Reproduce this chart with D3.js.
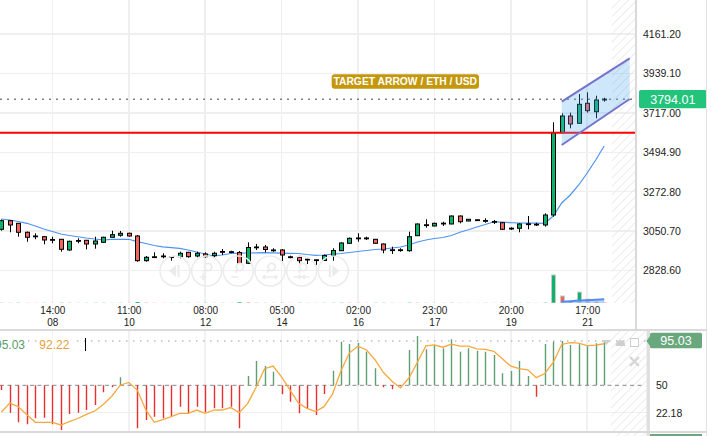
<!DOCTYPE html>
<html><head><meta charset="utf-8">
<script src="https://cdn.jsdelivr.net/npm/d3@7"></script>
<style>
html,body{margin:0;padding:0;background:#fff;overflow:hidden}
svg{display:block;font-family:"Liberation Sans",Arial,sans-serif}
</style></head><body>
<svg id="chart" width="717" height="436"></svg>
<script>
// ---------------- DATA ----------------
const startTime = "2024-05-07T08:00:00Z";
const candleHours = 5;

const opens = [3060.8,3109.3,3094.6,3043.9,3023.1,3019.1,3003.3,3004.5,2944.2,2997.7,
2998.8,2978.0,2987.6,3015.7,3027.0,3038.3,3023.1,2883.9,2905.9,2910.4,
2906.4,2906.4,2931.2,2910.4,2921.6,2912.0,2935.7,2934.6,2930.1,2869.2,
2961.1,2961.1,2944.2,2944.2,2905.9,2903.0,2892.3,2889.0,2885.0,2913.2,
2940.2,2981.9,3011.8,3011.8,3004.5,2978.0,2945.3,2945.3,2940.2,3024.7,
3086.2,3079.4,3095.2,3090.7,3135.7,3107.6,3114.3,3110.4,3104.8,3098.0,
3067.0,3066.4,3091.8,3089.5,3085.0,3141.4,3605.1,3699.2,3658.1,3770.7,
3723.4,3792.5];
const highs = [3116.0,3113.2,3096.3,3048.4,3038.3,3023.1,3019.1,3006.2,2996.6,3010.1,
3000.5,3019.1,3019.1,3052.9,3051.2,3041.6,3028.7,2910.4,2931.2,2925.6,
2907.6,2934.6,2932.9,2934.6,2931.2,2934.6,2949.8,2940.2,2938.5,2987.6,
2978.0,2972.3,2953.8,2949.8,2912.0,2912.0,2893.5,2890.1,2918.8,2953.8,
2987.6,3014.6,3038.3,3019.1,3006.2,2980.8,2962.8,2953.8,3047.3,3093.5,
3117.2,3098.0,3103.6,3138.6,3138.6,3118.8,3117.2,3122.8,3113.2,3100.2,
3072.1,3094.6,3135.7,3098.0,3151.0,3663.7,3714.4,3717.8,3823.1,3832.7,
3813.6,3802.3];
const lows = [3052.9,3043.9,3019.1,2990.9,3004.5,2976.3,2981.9,2934.6,2940.2,2981.9,
2948.1,2951.5,2985.3,3014.6,3019.1,3019.1,2878.2,2878.2,2900.8,2897.4,
2883.9,2897.4,2900.8,2903.0,2900.8,2903.0,2916.0,2925.6,2865.3,2865.3,
2944.2,2931.2,2934.6,2882.2,2897.4,2869.2,2865.3,2859.7,2882.2,2883.9,
2938.5,2980.8,2990.9,3000.5,2979.7,2925.6,2921.6,2934.6,2934.6,3023.1,
3069.8,3077.7,3079.4,3089.0,3094.6,3105.9,3109.3,3098.0,3090.7,3056.9,
3056.9,3043.9,3060.8,3079.4,3075.5,3131.8,3603.4,3629.9,3656.9,3717.8,
3686.2,3779.8];
const closes = [3109.3,3085.0,3043.9,3015.7,3020.2,3000.5,3001.6,2948.1,2993.2,2996.0,
2978.0,2994.9,3015.7,3030.4,3038.3,3023.1,2883.9,2903.0,2904.7,2908.7,
2905.3,2925.6,2906.4,2925.6,2906.4,2925.6,2934.0,2932.9,2869.2,2958.3,
2959.4,2947.0,2942.5,2916.0,2904.7,2883.9,2891.2,2887.8,2913.2,2941.4,
2983.6,3010.1,3010.1,3010.1,2981.9,2944.2,2944.2,2944.2,3019.1,3090.7,
3085.0,3094.6,3094.1,3135.7,3103.6,3117.2,3113.2,3109.3,3103.6,3060.8,
3065.9,3090.7,3090.7,3088.4,3141.4,3605.1,3699.2,3654.1,3765.1,3729.0,
3789.3,3794.01];
const maValues = [3118.8,3113.2,3104.7,3094.6,3079.4,3062.5,3048.4,3034.3,3025.9,3018.6,
3011.8,3006.2,3000.5,3004.5,3004.5,3004.5,2990.9,2980.8,2969.5,2962.2,
2957.7,2953.7,2944.2,2932.9,2921.6,2910.4,2916.0,2924.5,2926.2,2927.3,
2928.4,2929.0,2927.9,2926.8,2925.6,2924.5,2918.8,2914.3,2916.0,2920.5,
2924.5,2930.1,2935.7,2941.4,2947.0,2949.8,2955.4,2961.1,2972.3,2989.2,
3000.5,3009.0,3014.6,3025.9,3043.9,3058.0,3073.8,3087.8,3103.1,3100.8,
3098.0,3096.3,3095.7,3095.2,3094.6,3135.7,3209.0,3254.1,3310.4,3378.0,
3451.3,3530.2];
const volumes = [0.6,0.5,0.7,0.5,0.4,0.5,0.4,0.8,0.6,0.4,
0.5,0.5,0.6,0.4,0.5,0.4,3.2,0.9,0.5,0.4,
0.4,0.5,0.5,0.4,0.5,0.4,0.4,0.3,2.5,1.4,
0.6,0.5,0.4,0.7,0.4,0.6,0.5,0.4,0.5,0.6,
0.8,0.7,0.5,0.4,0.5,0.6,0.4,0.3,0.9,0.8,
0.5,0.4,0.4,0.6,0.5,0.4,0.3,0.4,0.3,0.6,
0.4,0.5,0.5,0.3,0.9,100,25,4,39,14,
5,1.5];
const volumeMA = [66,67,68,69,70,71];
const volumeMAValues = [4.5,6.5,8.5,10,11.5,13];
const histValues = [45.2,22.2,12.4,10.4,16.5,17.1,10.4,4.6,20.8,22.2,
24.9,30.0,42.9,48.0,58.1,50.5,6.3,14.7,18.1,16.5,
18.1,28.3,21.5,28.3,22.6,26.6,26.6,28.3,6.3,59.5,
74.7,69.6,63.8,40.9,33.3,21.5,26.6,19.8,41.2,64.8,
94.3,92.0,93.0,84.1,67.3,48.0,45.9,49.0,85.9,100.1,
86.6,91.0,87.6,96.7,84.1,87.6,85.2,84.1,80.8,62.2,
64.5,74.7,59.5,38.4,92.0,94.3,95.0,91.0,91.7,91.0,
92.7,95.03];
const signalValues = [22.9,32.0,28.3,20.1,12.4,12.4,12.4,9.7,13.2,16.3,
20.5,23.9,30.5,38.9,50.1,53.0,45.2,25.2,12.4,15.2,
18.1,21.4,21.5,24.9,21.5,24.7,24.9,27.4,22.3,31.4,
48.0,66.9,69.6,58.6,45.2,31.8,26.6,23.3,28.3,41.1,
64.8,83.0,89.8,85.9,76.2,63.0,54.1,47.3,57.4,73.5,
90.0,91.0,88.7,91.8,89.9,89.9,87.1,86.6,84.6,77.1,
69.4,66.9,65.8,57.8,62.0,73.2,91.5,93.3,92.8,90.3,
90.8,92.22];
const priceTicks = [4161.20,3939.10,3717.00,3494.90,3272.80,3050.70,2828.60];
const timeTicks = ["2024-05-08T14:00:00Z","2024-05-10T11:00:00Z","2024-05-12T08:00:00Z","2024-05-14T05:00:00Z",
"2024-05-16T02:00:00Z","2024-05-17T23:00:00Z","2024-05-19T20:00:00Z","2024-05-21T17:00:00Z"];
const indicatorTicks = [50, 22.18];
const lastPrice = 3794.01;
const horizontalLevel = 3605.1;
const channelUpper = [[66, 3779.8],[74, 4024.3]];
const channelLower = [[66, 3535.8],[74, 3795.0]];
const targetText = "TARGET ARROW / ETH / USD";
const targetAnchor = [47.57, 3893.6];
const histLast = 95.03, signalLast = 92.22;

// ---------------- SETUP ----------------
const svg = d3.select("#chart");
const mainRight = 636, mainBottom = 303;
const indTop = 331, indBottom = 431, indRight = 646.5;
const UP = "#0db36b", DOWN = "#f2655c";

const t0 = new Date(startTime);
const tAt = i => new Date(t0.getTime() + i * candleHours * 3600e3);
const times = opens.map((_, i) => tAt(i));
const n = opens.length;
const x = d3.scaleUtc().domain([times[0], times[n - 1]]).range([1.4, 1.4 + 8.49 * (n - 1)]);
const xi = i => x(tAt(i));
const y = d3.scaleLinear().domain([2828.6, 4161.2]).range([270.5, 34]);
const yv = d3.scaleLinear().domain([0, 100]).range([mainBottom, 275]);
const yi = d3.scaleLinear().domain([22.18, 95.03]).range([412.7, 341]);
const tickDates = timeTicks.map(s => new Date(s));

const defs = svg.append("defs");
const pat = defs.append("pattern").attr("id", "hatch").attr("width", 6).attr("height", 6)
  .attr("patternUnits", "userSpaceOnUse").attr("patternTransform", "rotate(45)");
pat.append("line").attr("x1", 0).attr("y1", 0).attr("x2", 0).attr("y2", 6)
  .attr("stroke", "#e8e8e8").attr("stroke-width", 1.6);
defs.append("clipPath").attr("id", "mainClip").append("rect")
  .attr("x", 0).attr("y", 0).attr("width", mainRight).attr("height", mainBottom);
defs.append("clipPath").attr("id", "indClip").append("rect")
  .attr("x", 0).attr("y", indTop).attr("width", indRight).attr("height", indBottom - indTop);

// ---------------- GRID & HATCH ----------------
const grid = svg.append("g").attr("shape-rendering", "crispEdges");
grid.selectAll(".hg").data(priceTicks).join("line")
  .attr("x1", 0).attr("x2", mainRight).attr("y1", d => y(d)).attr("y2", d => y(d))
  .attr("stroke", "#efefef").attr("stroke-width", 1.5);
grid.selectAll(".vg").data(tickDates).join("line")
  .attr("x1", d => x(d)).attr("x2", d => x(d)).attr("y1", 0).attr("y2", mainBottom)
  .attr("stroke", "#efefef").attr("stroke-width", 1.5);
grid.selectAll(".vgi").data(tickDates).join("line")
  .attr("x1", d => x(d)).attr("x2", d => x(d)).attr("y1", indTop).attr("y2", indBottom)
  .attr("stroke", "#f1f1f1").attr("stroke-width", 1.5);
grid.append("line").attr("x1", 0).attr("x2", indRight).attr("y1", yi(22.18)).attr("y2", yi(22.18))
  .attr("stroke", "#efefef").attr("stroke-width", 1.5);

svg.append("rect").attr("x", xi(71.9)).attr("y", 0).attr("width", mainRight - xi(71.9)).attr("height", mainBottom)
  .attr("fill", "url(#hatch)");
svg.append("rect").attr("x", xi(71.8)).attr("y", indTop).attr("width", indRight - xi(71.8)).attr("height", indBottom - indTop)
  .attr("fill", "url(#hatch)");
svg.append("rect").attr("x", xi(71.8)).attr("y", 433).attr("width", indRight - xi(71.8)).attr("height", 4)
  .attr("fill", "url(#hatch)");

// ---------------- MAIN PANE ----------------
const main = svg.append("g").attr("clip-path", "url(#mainClip)");

// volume
const vg = main.append("g");
volumes.forEach((v, i) => {
  const h = mainBottom - yv(v);
  const col = i > 0 && v < volumes[i - 1] ? DOWN : UP;
  const cx = Math.round(xi(i));
  vg.append("rect").attr("x", cx - 1.5).attr("y", yv(v)).attr("width", 4).attr("height", h)
    .attr("fill", col).attr("stroke", h >= 2 ? "#c9c9c9" : "none").attr("stroke-width", 1);
});
const vmaData = volumeMA.map((idx, k) => [idx, volumeMAValues[k]]);
main.append("path").datum(vmaData)
  .attr("d", d3.area().x(d => xi(d[0])).y0(mainBottom).y1(d => yv(d[1])))
  .attr("fill", "#9fc2f2").attr("opacity", 0.7);
main.append("path").datum(vmaData)
  .attr("d", d3.line().x(d => xi(d[0])).y(d => yv(d[1])))
  .attr("fill", "none").attr("stroke", "#4f8ff0").attr("stroke-width", 2);

// moving average
main.append("path").datum(maValues)
  .attr("d", d3.line().x((d, i) => xi(i)).y(d => y(d)))
  .attr("fill", "none").attr("stroke", "#4d94f5").attr("stroke-width", 1.2);

// candles
const cg = main.append("g");
opens.forEach((o, i) => {
  const c = closes[i];
  const cx = Math.round(xi(i));
  cg.append("line").attr("x1", cx + 0.5).attr("x2", cx + 0.5)
    .attr("y1", y(highs[i])).attr("y2", y(lows[i]))
    .attr("stroke", "#000").attr("stroke-width", 1);
  const top = y(Math.max(o, c)), bot = y(Math.min(o, c));
  const h = Math.max(bot - top, 0.8);
  cg.append("rect").attr("x", cx - 1.5).attr("y", top).attr("width", 4).attr("height", h)
    .attr("fill", c >= o ? UP : DOWN).attr("stroke", "#000").attr("stroke-width", 1);
});

// horizontal level & last price line
main.append("line").attr("x1", 0).attr("x2", mainRight)
  .attr("y1", y(horizontalLevel)).attr("y2", y(horizontalLevel))
  .attr("stroke", "#ff0000").attr("stroke-width", 2);
main.append("line").attr("x1", 0).attr("x2", mainRight)
  .attr("y1", y(lastPrice)).attr("y2", y(lastPrice))
  .attr("stroke", "#444").attr("stroke-width", 1).attr("stroke-dasharray", "2,5");

// channel
const chPts = [channelUpper[0], channelUpper[1], channelLower[1], channelLower[0]];
main.append("path").attr("d", d3.line().x(d => xi(d[0])).y(d => y(d[1]))(chPts) + "Z")
  .attr("fill", "rgb(80,170,240)").attr("fill-opacity", 0.28);
[channelUpper, channelLower].forEach(seg => {
  main.append("path").attr("d", d3.line().x(d => xi(d[0])).y(d => y(d[1]))(seg))
    .attr("stroke", "#7474cc").attr("stroke-width", 2).attr("fill", "none");
});

// target label
const tx = xi(targetAnchor[0]), ty = y(targetAnchor[1]);
main.append("rect").attr("x", tx - 73.6).attr("y", ty - 7.2).attr("width", 147.3).attr("height", 14.4)
  .attr("rx", 3).attr("fill", "#c4970c");
main.append("text").attr("x", tx).attr("y", ty + 3.7).attr("text-anchor", "middle")
  .attr("font-size", 10.3).attr("font-weight", "bold").attr("fill", "#fff").text(targetText);

// navigation buttons
const NAVC = "#ebebeb";
const nav = svg.append("g").attr("fill", "none").attr("stroke", NAVC);
const navX = [175, 206.7, 238.3, 270, 301.7, 333.3], navY = 271;
navX.forEach((cx, k) => {
  const g = nav.append("g").attr("transform", `translate(${cx},${navY})`);
  g.append("circle").attr("r", 15).attr("stroke-width", 1.5);
  if (k === 0) {
    g.append("path").attr("d", "M-6,0 L1,-6 L1,6 Z").attr("fill", NAVC).attr("stroke", "none");
    g.append("rect").attr("x", 2.5).attr("y", -6).attr("width", 2).attr("height", 12).attr("fill", NAVC).attr("stroke", "none");
  } else if (k === 5) {
    g.append("path").attr("d", "M6,0 L-1,-6 L-1,6 Z").attr("fill", NAVC).attr("stroke", "none");
    g.append("rect").attr("x", -4.5).attr("y", -6).attr("width", 2).attr("height", 12).attr("fill", NAVC).attr("stroke", "none");
  } else {
    g.append("circle").attr("cx", 1.5).attr("cy", -4).attr("r", 3.6).attr("stroke-width", 1.8);
    g.append("line").attr("x1", -0.8).attr("y1", -1.2).attr("x2", -3).attr("y2", 1.5).attr("stroke-width", 2);
    const sym = g.append("g").attr("stroke-width", 1.6);
    if (k === 1) { sym.append("path").attr("d", "M-7,6 h7 M-3.5,2.5 v7"); }
    if (k === 2) { sym.append("path").attr("d", "M-7,6 h7"); }
    if (k === 3) { sym.append("path").attr("d", "M-7,6 h14 M-5,4 l-2,2 l2,2 M5,4 l2,2 l-2,2"); }
    if (k === 4) { sym.append("path").attr("d", "M-8,6 h16 M-3,4 l2,2 l-2,2 M3,4 l-2,2 l2,2"); }
  }
});

// ---------------- AXES ----------------
const fontFam = '"Liberation Sans",Arial,sans-serif';
svg.append("g").attr("transform", `translate(${mainRight + 1},0)`)
  .call(d3.axisRight(y).tickValues(priceTicks).tickFormat(d3.format(".2f")).tickSize(0).tickPadding(6))
  .call(g => g.select(".domain").remove())
  .call(g => g.selectAll("text").attr("font-size", 10.5).attr("fill", "#222").attr("font-family", fontFam));

const fmtH = d3.utcFormat("%H:%M"), fmtD = d3.utcFormat("%d");
svg.append("g").attr("transform", `translate(0,${mainBottom})`)
  .call(d3.axisBottom(x).tickValues(tickDates).tickSize(0).tickPadding(0).tickFormat(fmtH))
  .call(g => g.select(".domain").remove())
  .call(g => g.selectAll(".tick").each(function (d) {
    const tk = d3.select(this);
    tk.select("text").attr("dy", null).attr("y", 11.2)
      .attr("font-size", 10).attr("fill", "#222").attr("font-family", fontFam);
    tk.append("text").attr("y", 22.5).attr("text-anchor", "middle")
      .attr("font-size", 10).attr("fill", "#222").attr("font-family", fontFam).text(fmtD(d));
  }));

// price label
const ly = y(lastPrice);
svg.append("rect").attr("x", 639).attr("y", ly - 9.2).attr("width", 67.7).attr("height", 18.3)
  .attr("rx", 2).attr("fill", "#21c47a");
svg.append("text").attr("x", 672.8).attr("y", ly + 4.4).attr("text-anchor", "middle")
  .attr("font-size", 12.5).attr("fill", "#fff").text(d3.format(".2f")(lastPrice));

// ---------------- INDICATOR ----------------
const ind = svg.append("g").attr("clip-path", "url(#indClip)");
ind.append("line").attr("x1", 0).attr("x2", indRight - 4).attr("y1", yi(50)).attr("y2", yi(50))
  .attr("stroke", "#8a8a8a").attr("stroke-width", 1).attr("stroke-dasharray", "4,3.5");
ind.append("line").attr("x1", 0).attr("x2", indRight).attr("y1", yi(histLast)).attr("y2", yi(histLast))
  .attr("stroke", "#9a9a9a").attr("stroke-width", 1).attr("stroke-dasharray", "1.5,5.5");
histValues.forEach((v, i) => {
  const cx = Math.round(xi(i)) + 0.5;
  ind.append("line").attr("x1", cx).attr("x2", cx).attr("y1", yi(50)).attr("y2", yi(v))
    .attr("stroke", v >= 50 ? "#5f9f72" : "#e8302e").attr("stroke-width", 1.4);
});
ind.append("path").datum(signalValues)
  .attr("d", d3.line().x((d, i) => xi(i)).y(d => yi(d)))
  .attr("fill", "none").attr("stroke", "#f7a83e").attr("stroke-width", 1.3);

// indicator legend
const legY = 349.3;
svg.append("rect").attr("x", 0).attr("y", 338).attr("width", 26).attr("height", 14).attr("fill", "#fff");
svg.append("rect").attr("x", 37).attr("y", 338).attr("width", 35).attr("height", 14).attr("fill", "#fff");
svg.append("text").attr("x", -5).attr("y", legY).attr("font-size", 12).attr("fill", "#5a9a6a").text(histLast.toFixed(2));
svg.append("text").attr("x", 39.3).attr("y", legY).attr("font-size", 12).attr("fill", "#e8a03c").text(signalLast.toFixed(2));
svg.append("line").attr("x1", 85.5).attr("x2", 85.5).attr("y1", 338).attr("y2", 351).attr("stroke", "#000");

// indicator icons
const ic = svg.append("g").attr("fill", "#cfcfcf").attr("stroke", "none");
ic.append("path").attr("d", "M602.5,340 h8 l-4,5 Z");
ic.append("path").attr("d", "M615.5,346 q1,-6 5,-6 q4,0 5,6 Z");
ic.append("rect").attr("x", 630.5).attr("y", 338.5).attr("width", 8).attr("height", 8)
  .attr("fill", "#fff").attr("stroke", "#cfcfcf").attr("stroke-width", 1);
ic.append("path").attr("d", "M630,357 l9,9 M639,357 l-9,9").attr("stroke", "#d5d5d5").attr("stroke-width", 2.2);

// indicator axis
svg.append("rect").attr("x", indRight).attr("y", indTop).attr("width", 3.5).attr("height", 436 - indTop).attr("fill", "#e0e0e0");
svg.append("g").attr("transform", `translate(650,0)`)
  .call(d3.axisRight(yi).tickValues(indicatorTicks).tickFormat(d => d === 50 ? "50" : d3.format(".2f")(d)).tickSize(0).tickPadding(6))
  .call(g => g.select(".domain").remove())
  .call(g => g.selectAll("text").attr("font-size", 10.5).attr("fill", "#222").attr("font-family", fontFam));
const iy = yi(histLast);
svg.append("path").attr("d", `M650,${iy - 5} L646.5,${iy} L650,${iy + 5} Z`).attr("fill", "#68a87c");
svg.append("rect").attr("x", 650).attr("y", iy - 8.3).attr("width", 52).attr("height", 15.6).attr("rx", 1.5).attr("fill", "#68a87c");
svg.append("text").attr("x", 676).attr("y", iy + 4.3).attr("text-anchor", "middle")
  .attr("font-size", 12.5).attr("fill", "#fff").text(histLast.toFixed(2));
svg.append("rect").attr("x", 650).attr("y", 434).attr("width", 52).attr("height", 4).attr("fill", "#68a87c");

// ---------------- FRAME LINES ----------------
const fr = svg.append("g").attr("shape-rendering", "crispEdges");
fr.append("line").attr("x1", mainRight).attr("x2", mainRight).attr("y1", 0).attr("y2", 330).attr("stroke", "#d9d9d9").attr("stroke-width", 1.5);
fr.append("line").attr("x1", 706.5).attr("x2", 706.5).attr("y1", 0).attr("y2", 436).attr("stroke", "#e2e2e2").attr("stroke-width", 1);
fr.append("line").attr("x1", 0).attr("x2", 707).attr("y1", 330).attr("y2", 330).attr("stroke", "#dadada").attr("stroke-width", 2);
fr.append("line").attr("x1", 0).attr("x2", 707).attr("y1", 431.5).attr("y2", 431.5).attr("stroke", "#dadada").attr("stroke-width", 2);
</script>
</body></html>
